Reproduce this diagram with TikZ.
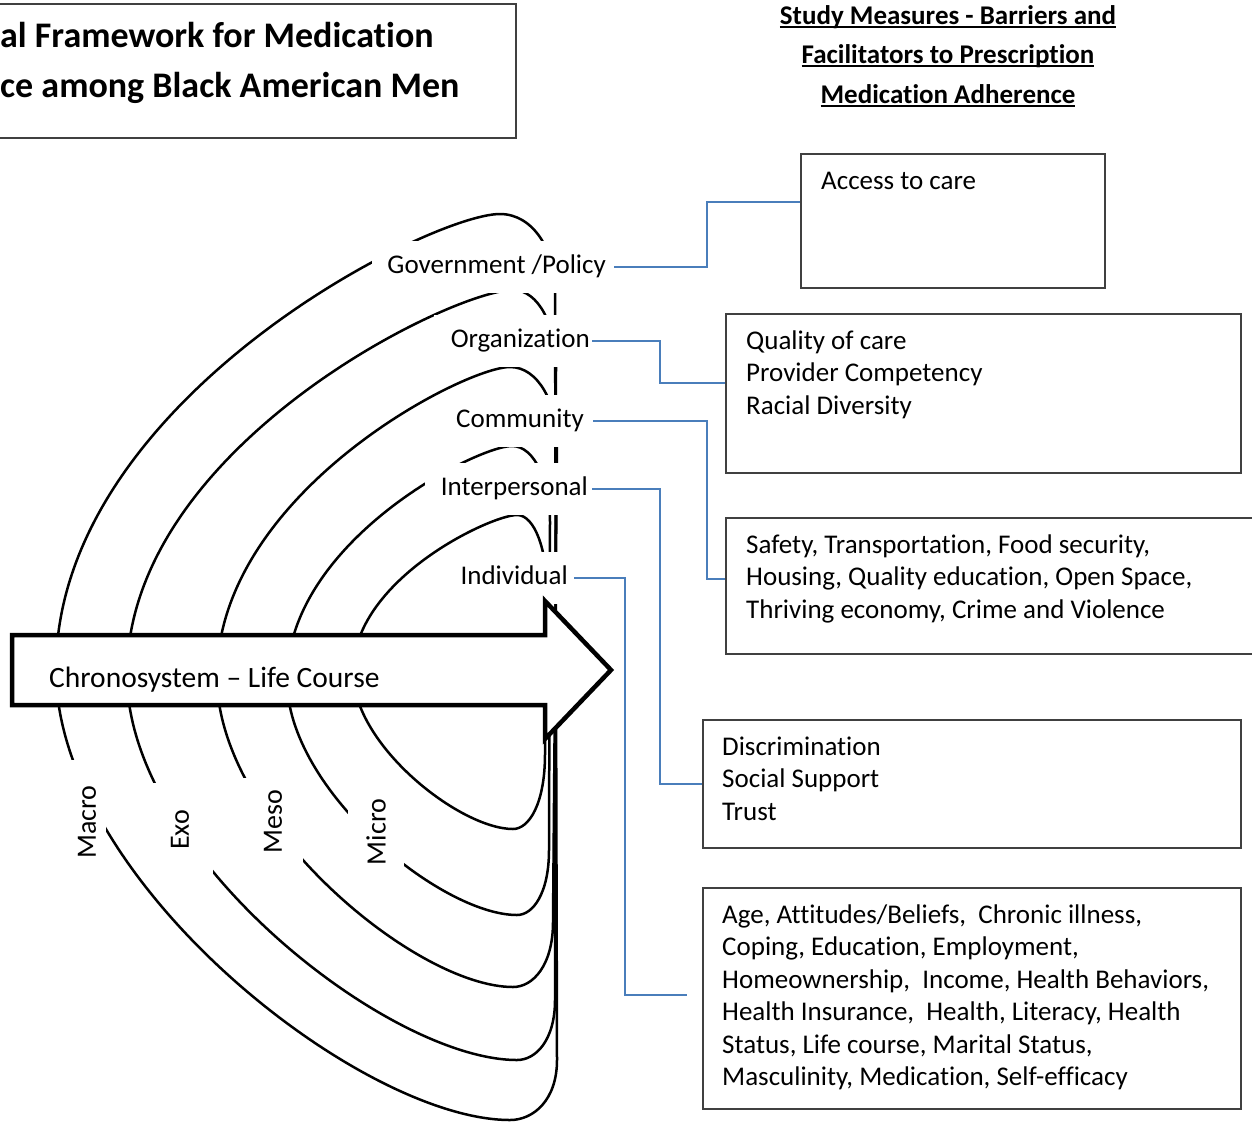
\documentclass[tikz,border=0pt]{standalone}
\usepackage{fontspec}
\setmainfont{Carlito}[Ligatures={NoCommon}]
\definecolor{connblue}{RGB}{74,126,187}
\definecolor{framegray}{RGB}{64,64,64}
\newcommand\bodyfont{\fontsize{27}{32.5}\selectfont}
\newcommand\headfont{\fontsize{27}{39.5}\selectfont\bfseries}
\newcommand\titlefont{\fontsize{36}{50}\selectfont\bfseries}
\newcommand\chronofont{\fontsize{29.5}{34}\selectfont}
\newcommand\rotfont{\fontsize{28}{33}\selectfont}
\newcommand\ulx[1]{\setbox0=\hbox{#1}\rlap{\rule[-3.5pt]{\wd0}{1.8pt}}\box0}
\begin{document}
\begin{tikzpicture}[x=1pt,y=-1pt,
  arcline/.style={draw=black, line width=2.5pt},
  lvl/.style={fill=white, anchor=east, minimum height=52pt, align=flush right, font=\bodyfont, text height=19pt, text depth=6pt, inner ysep=0pt},
  rot/.style={fill=white, rotate=90, inner sep=0pt, font=\rotfont},
  frame/.style={draw=framegray, line width=1.6pt, anchor=north west, inner sep=0pt},
  txt/.style={anchor=north west, inner sep=0pt, align=left, font=\bodyfont},
  conn/.style={draw=connblue, line width=2pt},
  chronoarrow/.style={draw=black, fill=white, line width=4.5pt, line join=miter, miter limit=10},
]
\useasboundingbox (0,0) rectangle (1252,1130);
\fill[white] (0,0) rectangle (1252,1130);

% nested system arcs
\foreach \px/\tp/\lx/\cy/\bx/\bt/\xt/\xb/\hh in {
  500/214/56/670/510/1120/555/557/60,
  513/290/127/675/517/1060/556/555/60,
  510/367/217/677/513/987/557/553/65,
  512/446/287/680/517/915/550/549/65,
  517/515/353/672/513/829/547/545/75}
{
  \pgfmathsetmacro\cya{\cy-0.59*(\cy-\tp)}
  \pgfmathsetmacro\cxb{\px-0.158*(\px-\lx)}
  \pgfmathsetmacro\cxc{\bx-0.33*(\bx-\lx)}
  \pgfmathsetmacro\cyd{\cy+0.467*(\bt-\cy)}
  \pgfmathsetmacro\cxe{\px+0.6*(\xt-\px)}
  \pgfmathsetmacro\yta{\tp+36}
  \pgfmathsetmacro\ytb{\tp+76}
  \pgfmathsetmacro\ybs{\bt-\hh}
  \pgfmathsetmacro\ybc{\bt-\hh/3}
  \pgfmathsetmacro\xbc{(\xb+\bx)/2}
  \draw[arcline] (\px,\tp) .. controls (\cxe,\tp) and (\xt,\yta) .. (\xt,\ytb)
    -- (\xb,\ybs) .. controls (\xb,\ybc) and (\xbc,\bt) .. (\bx,\bt)
    .. controls (\cxc,\bt) and (\lx,\cyd) .. (\lx,\cy)
    .. controls (\lx,\cya) and (\cxb,\tp) .. (\px,\tp);
}

% level labels
\node[lvl, text width=226pt, inner xsep=8pt] (gov) at (614,267) {Government /Policy};
\node[lvl, text width=154pt, inner xsep=2pt] (org) at (592,341) {Organization};
\node[lvl, text width=134pt, inner xsep=9pt] (com) at (593,421) {Community};
\node[lvl, text width=159pt, inner xsep=4pt] (inter) at (592,489) {Interpersonal};
\node[lvl, text width=116pt, inner xsep=6pt] (indiv) at (574,578) {Individual};

% system labels
\node[rot, minimum width=124pt, minimum height=38pt] (macro) at (87,822) {Macro};
\node[rot, minimum width=94pt, minimum height=66pt] (exo) at (180,830) {Exo};
\node[rot, minimum width=88pt, minimum height=60pt] (meso) at (273,822) {Meso};
\node[rot, minimum width=84pt, minimum height=56pt] (micro) at (376,832) {Micro};

% chronosystem arrow
\draw[chronoarrow] (12,635) -- (545,635) -- (545,601) -- (611,670) -- (545,739) -- (545,705) -- (12,705) -- cycle;
\node[anchor=base west, font=\chronofont, inner sep=0pt] (chrono) at (49,687) {Chronosystem – Life Course};

% measure boxes
\node[frame, minimum width=304pt, minimum height=134pt] (bacc) at (800,153) {};
\node[frame, minimum width=515pt, minimum height=159pt] (bqual) at (725,313) {};
\node[frame, minimum width=545pt, minimum height=136pt] (bsafe) at (725,517) {};
\node[frame, minimum width=538pt, minimum height=128pt] (bdisc) at (702,719) {};
\node[frame, minimum width=538pt, minimum height=221pt] (bage) at (702,887) {};

\node[txt] (tacc) at ([shift={(21,14)}]bacc.north west) {\rule{0pt}{22pt}Access to care};
\node[txt] (tqual) at ([shift={(21,14)}]bqual.north west) {\rule{0pt}{22pt}Quality of care\\Provider Competency\\Racial Diversity};
\node[txt] (tsafe) at ([shift={(21,14)}]bsafe.north west) {\rule{0pt}{22pt}Safety, Transportation, Food security,\\Housing, Quality education, Open Space,\\Thriving economy, Crime and Violence};
\node[txt] (tdisc) at ([shift={(20,14)}]bdisc.north west) {\rule{0pt}{22pt}Discrimination\\Social Support\\Trust};
\node[txt] (tage) at ([shift={(20,14)}]bage.north west) {\rule{0pt}{22pt}Age, Attitudes/Beliefs,~ Chronic illness,\\Coping, Education, Employment,\\Homeownership,~ Income, Health Behaviors,\\Health Insurance,~ Health, Literacy, Health\\Status, Life course, Marital Status,\\Masculinity, Medication, Self-efficacy};

% connectors
\coordinate (indend) at (687,995);
\draw[conn] (gov.east) -- ++(93,0) |- ([yshift=19pt]bacc.west);
\draw[conn] (org.east) -- ++(68,0) |- ([yshift=10pt]bqual.west);
\draw[conn] (com.east) -- ++(114,0) |- ([yshift=7pt]bsafe.west);
\draw[conn] (inter.east) -- ++(68,0) |- (bdisc.west);
\draw[conn] (indiv.east) -- ++(51,0) |- (indend);

% heading and title
\node[anchor=north, align=center, font=\headfont, inner sep=0pt] (head) at (948,2)
  {\rule{0pt}{22pt}\ulx{Study Measures - Barriers and}\\\ulx{Facilitators to Prescription}\\\ulx{Medication Adherence}};
\node[draw=framegray, line width=1.6pt, anchor=north east, minimum width=560pt, minimum height=134pt, inner sep=0pt] (titlebox) at (517,3) {};
\node[anchor=north west, align=left, font=\titlefont, inner sep=0pt] (title) at (0,17)
  {\rule{0pt}{30pt}al Framework for Medication\\ce among Black American Men};
\end{tikzpicture}
\end{document}
